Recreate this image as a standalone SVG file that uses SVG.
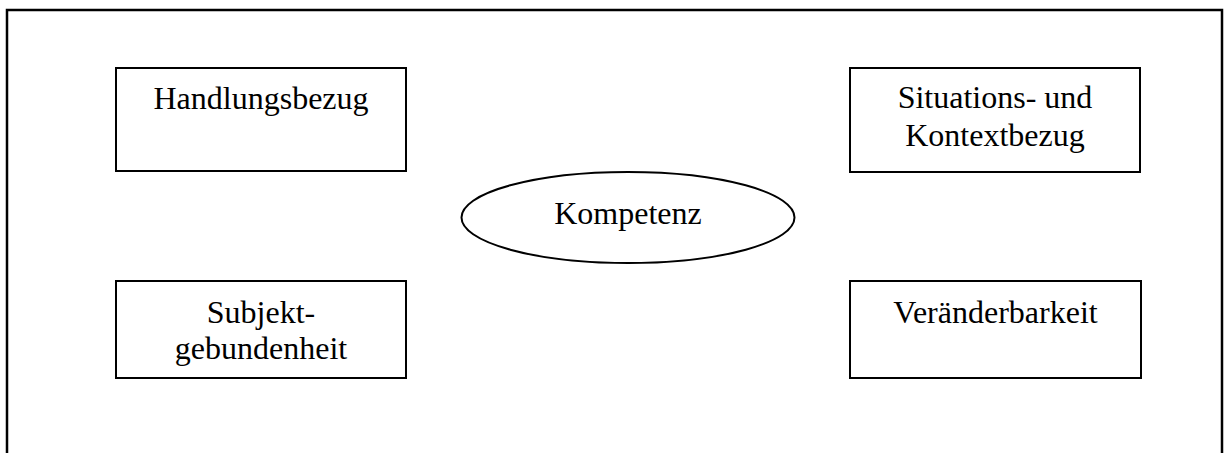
<svg xmlns="http://www.w3.org/2000/svg" width="1226" height="453" viewBox="0 0 1226 453">
<style>
.box{fill:#fff;stroke:#000;stroke-width:2}
.t{font-family:"Liberation Serif","Times New Roman",serif;font-size:32px;fill:#000;text-anchor:middle}
</style>
<rect x="0" y="0" width="1226" height="453" fill="#fff"/>
<g id="frame"><path d="M7,460 V10 H1222 V460" fill="none" stroke="#000" stroke-width="2.5"/></g>
<g id="connectors"></g>
<g id="handlungsbezug"><rect class="box" x="116" y="68" width="290" height="103"/><text class="t" x="261" y="109">Handlungsbezug</text></g>
<g id="situationsbezug"><rect class="box" x="850" y="68" width="290" height="104"/><text class="t" x="995" y="108">Situations- und</text><text class="t" x="995" y="146">Kontextbezug</text></g>
<g id="kompetenz"><ellipse class="box" cx="628" cy="217.5" rx="166.5" ry="45.5"/><text class="t" x="628" y="224">Kompetenz</text></g>
<g id="subjektgebundenheit"><rect class="box" x="116" y="281" width="290" height="97"/><text class="t" x="261" y="323">Subjekt-</text><text class="t" x="261" y="359">gebundenheit</text></g>
<g id="veraenderbarkeit"><rect class="box" x="850" y="281" width="291" height="97"/><text class="t" x="995.5" y="323">Veränderbarkeit</text></g>
</svg>
